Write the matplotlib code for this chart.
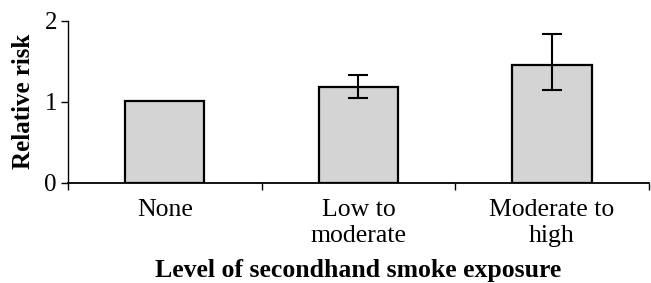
import matplotlib
matplotlib.use("Agg")
import matplotlib.pyplot as plt

categories = ["None", "Low to\nmoderate", "Moderate to\nhigh"]
risk = [1.01, 1.18, 1.45]
err_low = [None, 1.04, 1.14]
err_high = [None, 1.33, 1.84]

plt.rcParams['font.family'] = ['Liberation Serif', 'DejaVu Serif']

fig = plt.figure(figsize=(6.51, 2.83), dpi=100)
ax = fig.add_axes([0.1045, 0.354, 0.892, 0.573])

x = list(range(len(categories)))
ax.bar(x, risk, width=0.41, color='#d4d4d4', edgecolor='black', linewidth=1.6, zorder=2)

for i in range(len(categories)):
	if err_low[i] is None:
		continue
	ax.errorbar(x[i], risk[i], yerr=[[risk[i] - err_low[i]], [err_high[i] - risk[i]]],
		fmt='none', ecolor='black', elinewidth=1.5, capsize=7.5, capthick=1.5, zorder=3)

ax.set_xlim(-0.5, 2.5)
ax.set_ylim(0, 2)
ax.set_yticks([0, 1, 2])
ax.set_xticks(x)
ax.set_xticklabels(categories, fontsize=18.5, linespacing=1.2)
ax.set_xticks([-0.5, 0.5, 1.5, 2.5], minor=True)
ax.tick_params(axis='x', which='major', length=0, pad=12)
ax.tick_params(axis='x', which='minor', length=5, width=1, direction='out')
ax.tick_params(axis='y', length=5, width=1, labelsize=18, pad=3)

for s in ['top', 'right']:
	ax.spines[s].set_visible(False)
ax.spines['left'].set_linewidth(1)
ax.spines['bottom'].set_linewidth(1.3)

ax.set_ylabel("Relative risk", fontsize=18, fontweight='bold', labelpad=7)
ax.set_xlabel("Level of secondhand smoke exposure", fontsize=18.5, fontweight='bold', labelpad=9)

fig.savefig("out.png", dpi=100)
